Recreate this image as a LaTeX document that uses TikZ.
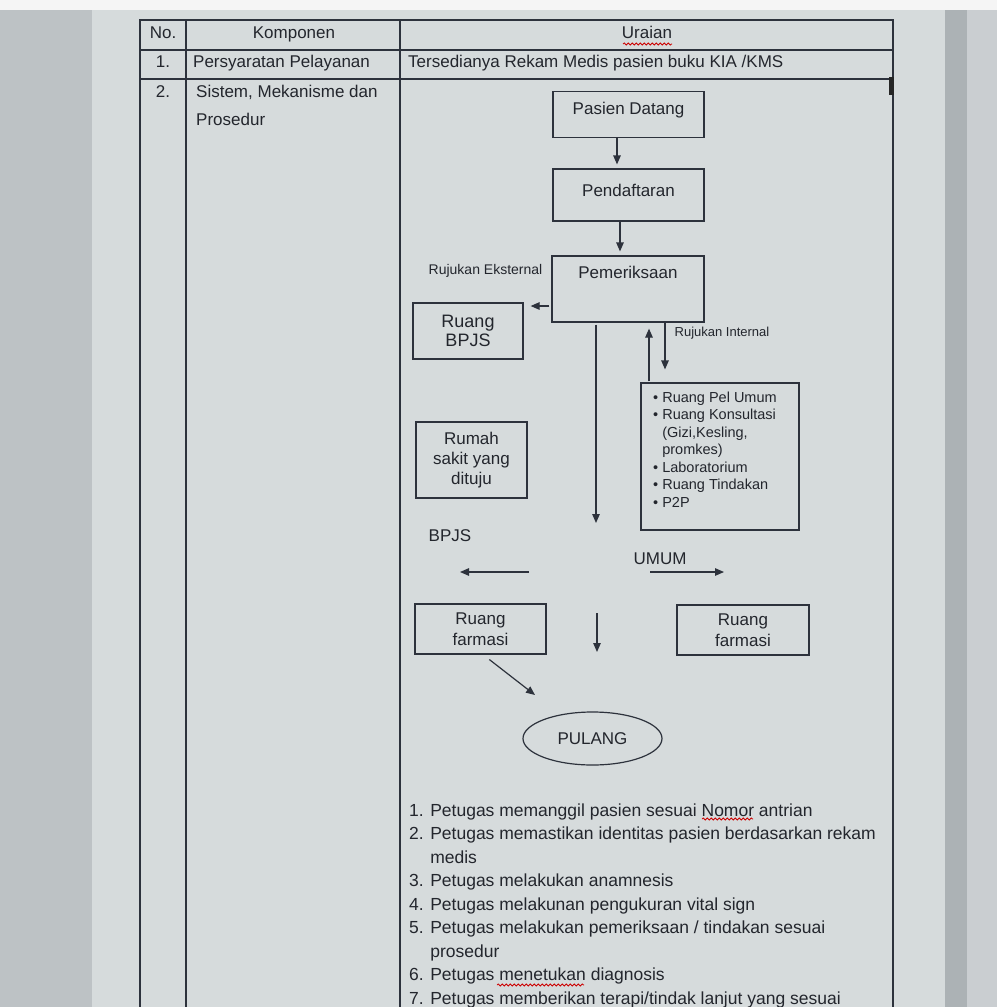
\documentclass[tikz,border=0pt]{standalone}
\usepackage{fontspec}
\setmainfont{Liberation Sans}
\usetikzlibrary{arrows.meta,shapes.geometric,decorations.pathmorphing}
\definecolor{kertas}{RGB}{214,219,220}
\definecolor{meja}{RGB}{189,194,197}
\definecolor{tepi}{RGB}{172,178,181}
\definecolor{garis}{RGB}{45,50,60}
\definecolor{tinta}{RGB}{35,38,45}
\begin{document}
\begin{tikzpicture}[x=1pt,y=-1pt,
  tabel/.style={draw=garis,line width=1.2pt},
  kotak/.style={draw=garis,line width=1.2pt,inner sep=0pt,align=center,text=tinta,font=\fontsize{17}{20}\selectfont},
  teks/.style={inner sep=0pt,text=tinta,font=\fontsize{17}{20}\selectfont},
  panah/.style={draw=garis,line width=1.2pt,-{Triangle[length=9pt,width=7.5pt]}},
  ular/.style={draw=red!80!black,line width=0.8pt,decorate,decoration={snake,amplitude=1pt,segment length=4pt}}]
\useasboundingbox (0,0) rectangle (997,1007);
\clip (0,0) rectangle (997,1007);
\fill[meja] (0,0) rectangle (92,1007);
\fill[kertas] (92,10) rectangle (945,1007);
\fill[tepi] (945,10) rectangle (967,1007);
\fill[meja!80!white] (967,10) rectangle (997,1007);
\fill[white!96!black] (0,0) rectangle (997,10);
% tabel
\draw[tabel] (140,1010) -- (140,20) -- (893,20) -- (893,1010);
\draw[tabel] (140,50) -- (893,50);
\draw[tabel] (140,79) -- (893,79);
\draw[tabel] (186,20) -- (186,1010);
\draw[tabel] (400,20) -- (400,1010);
\fill[black!85] (889,77) rectangle (894,95);
\node[teks,anchor=base] (h-no) at (163,38) {No.};
\node[teks,anchor=base] (h-komp) at (294,38) {Komponen};
\node[teks,anchor=base] (h-urai) at (647,38) {Uraian};
\draw[ular] (623,44) -- (672,44);
\node[teks,anchor=base] (r1-no) at (163,67) {1.};
\node[teks,anchor=base west] (r1-komp) at (193,67) {Persyaratan Pelayanan};
\node[teks,anchor=base west] (r1-urai) at (408,67) {Tersedianya Rekam Medis pasien buku KIA /KMS};
\node[teks,anchor=base] (r2-no) at (163,97) {2.};
\node[teks,anchor=base west] (r2-komp) at (196,97) {Sistem, Mekanisme dan};
\node[teks,anchor=base west] (r2-komp2) at (196,125) {Prosedur};
% alur
\node[kotak,minimum width=151pt,minimum height=46pt] (pasien) at (628.5,114.5) {\raisebox{4pt}[\height][\depth]{Pasien Datang}};
\node[kotak,minimum width=151pt,minimum height=52pt] (daftar) at (628.5,195) {\raisebox{5pt}[\height][\depth]{Pendaftaran}};
\node[kotak,minimum width=152pt,minimum height=66pt] (periksa) at (628,289) {\raisebox{17pt}[\height][\depth]{Pemeriksaan}};
\node[kotak,minimum width=110pt,minimum height=56pt,font=\fontsize{18}{19}\selectfont] (ruangbpjs) at (468,331) {Ruang\\BPJS};
\node[kotak,minimum width=111pt,minimum height=76pt] (rumahsakit) at (471.5,460) {Rumah\\sakit yang\\dituju};
\node[kotak,minimum width=158pt,minimum height=147pt] (layanan) at (720,456.5) {};
\node[teks,anchor=north west,align=left,font=\fontsize{14.5}{17.5}\selectfont] (layanan-isi) at (653,391.5)
  {\textbullet\ Ruang Pel Umum\\
   \textbullet\ Ruang Konsultasi\\
   \hphantom{\textbullet\ }(Gizi,Kesling,\\
   \hphantom{\textbullet\ }promkes)\\
   \textbullet\ Laboratorium\\
   \textbullet\ Ruang Tindakan\\
   \textbullet\ P2P};
\node[kotak,minimum width=131pt,minimum height=50pt,font=\fontsize{17}{21}\selectfont] (farmasi1) at (480.5,629) {Ruang\\farmasi};
\node[kotak,minimum width=132pt,minimum height=50pt,font=\fontsize{17}{21}\selectfont] (farmasi2) at (743,630) {Ruang\\farmasi};
\node[kotak,ellipse,minimum width=139pt,minimum height=53pt] (pulang) at (592.5,738.5) {PULANG};
\node[teks,font=\fontsize{14}{16}\selectfont] (lbl-eks) at (485.5,271) {Rujukan Eksternal};
\node[teks,font=\fontsize{13}{15}\selectfont] (lbl-int) at (722,333) {Rujukan Internal};
\node[teks] (lbl-bpjs) at (450,536) {BPJS};
\node[teks] (lbl-umum) at (660,559) {UMUM};
\coordinate (rujuk-eks) at ([yshift=-17pt]periksa.west);
\coordinate (cabang) at (596,523);
\coordinate (kiri-a) at (529,572);
\coordinate (kiri-b) at (460,572);
\coordinate (kanan-a) at (650,572);
\coordinate (kanan-b) at (724,572);
\coordinate (tengah-a) at (597,613);
\coordinate (tengah-b) at (597,652);
\coordinate (ke-pulang) at (535,695);
\draw[panah,shorten >=4pt] ([xshift=-11.5pt]pasien.south) -- ([xshift=-11.5pt]daftar.north);
\draw[panah,shorten >=4pt] ([xshift=-8.5pt]daftar.south) -- ([xshift=-8pt]periksa.north);
\draw[panah,shorten <=2pt,shorten >=7pt] (rujuk-eks) -- (rujuk-eks -| ruangbpjs.east);
\draw[panah,shorten <=2pt] (periksa.south -| cabang) -- (cabang);
\draw[panah,shorten <=1pt,shorten >=6pt] ([xshift=-71pt]layanan.north) -- ([xshift=21pt]periksa.south);
\draw[panah,shorten >=13pt] ([xshift=37pt]periksa.south) -- ([xshift=-55pt]layanan.north);
\draw[panah] (kiri-a) -- (kiri-b);
\draw[panah] (kanan-a) -- (kanan-b);
\draw[panah] (tengah-a) -- (tengah-b);
\draw[panah,shorten <=8pt] ([xshift=2.5pt]farmasi1.south) -- (ke-pulang);
% langkah
\node[teks,anchor=north west,align=left,font=\fontsize{17.5}{23.5}\selectfont] (langkah) at (409,803.5)
  {1. Petugas memanggil pasien sesuai Nomor antrian\\
   2. Petugas memastikan identitas pasien berdasarkan rekam\\
   \hphantom{2. }medis\\
   3. Petugas melakukan anamnesis\\
   4. Petugas melakunan pengukuran vital sign\\
   5. Petugas melakukan pemeriksaan / tindakan sesuai\\
   \hphantom{5. }prosedur\\
   6. Petugas menetukan diagnosis\\
   7. Petugas memberikan terapi/tindak lanjut yang sesuai};
\draw[ular] (702,819) -- (753,819);
\draw[ular] (497,985) -- (584,985);
\end{tikzpicture}
\end{document}
